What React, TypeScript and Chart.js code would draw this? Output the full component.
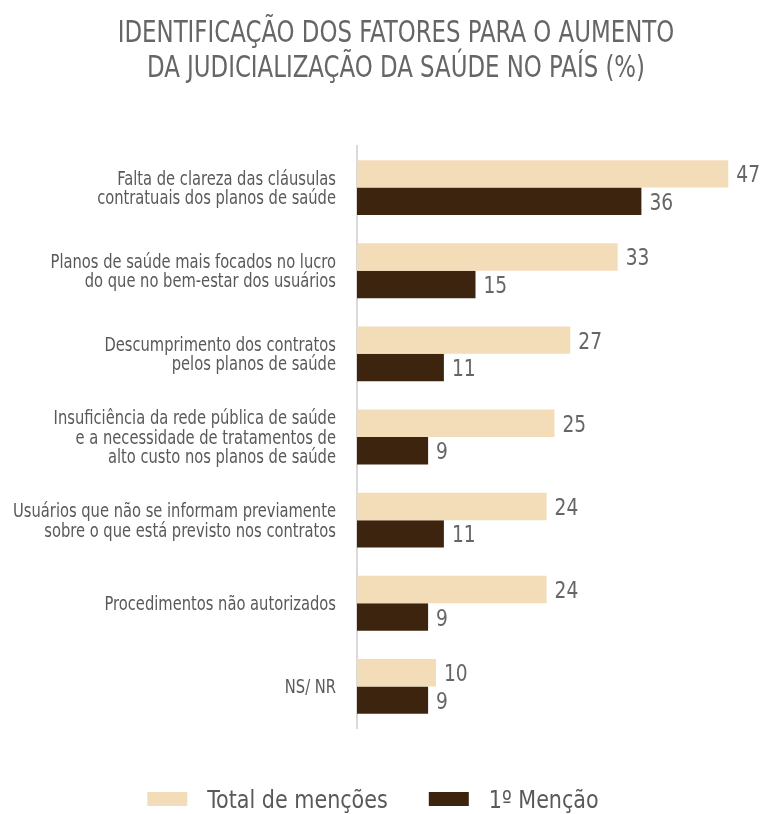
import React, { useEffect, useRef } from "react";
import { Chart, registerables } from "chart.js";

Chart.register(...registerables);

const categories: string[][] = [
  ["Falta de clareza das cláusulas", "contratuais dos planos de saúde"],
  ["Planos de saúde mais focados no lucro", "do que no bem-estar dos usuários"],
  ["Descumprimento dos contratos", "pelos planos de saúde"],
  ["Insuficiência da rede pública de saúde", "e a necessidade de tratamentos de", "alto custo nos planos de saúde"],
  ["Usuários que não se informam previamente", "sobre o que está previsto nos contratos"],
  ["Procedimentos não autorizados"],
  ["NS/ NR"],
];
const totalMencoes: number[] = [47, 33, 27, 25, 24, 24, 10];
const primeiraMencao: number[] = [36, 15, 11, 9, 11, 9, 9];
const titleLines: string[] = [
  "IDENTIFICAÇÃO DOS FATORES PARA O AUMENTO",
  "DA JUDICIALIZAÇÃO DA SAÚDE NO PAÍS (%)",
];
const seriesNames: string[] = ["Total de menções", "1º Menção"];
const seriesColors: string[] = ["#F3DDB9", "#3D240F"];

const FONT = "'DejaVu Sans Condensed', 'DejaVu Sans', sans-serif";

function drawText(
  ctx: CanvasRenderingContext2D,
  text: string,
  x: number,
  y: number,
  size: number,
  sx: number,
  align: CanvasTextAlign,
  color: string
) {
  ctx.save();
  ctx.font = `${size}px ${FONT}`;
  ctx.fillStyle = color;
  ctx.textAlign = align;
  ctx.textBaseline = "alphabetic";
  ctx.translate(x, y);
  ctx.scale(sx, 1);
  ctx.fillText(text, 0, 0);
  ctx.restore();
}

function textWidth(ctx: CanvasRenderingContext2D, text: string, size: number, sx: number) {
  ctx.save();
  ctx.font = `${size}px ${FONT}`;
  const w = ctx.measureText(text).width * sx;
  ctx.restore();
  return w;
}

const decorations = {
  id: "decorations",
  afterDraw(chart: any) {
    const ctx: CanvasRenderingContext2D = chart.ctx;
    // Title
    drawText(ctx, titleLines[0], 396, 42, 31, 0.82, "center", "#666666");
    drawText(ctx, titleLines[1], 396, 76.5, 31, 0.82, "center", "#666666");

    // Category labels
    const yScale = chart.scales.y;
    const lineH = 19.5;
    chart.data.labels.forEach((lbl: string[], i: number) => {
      const cy = yScale.getPixelForValue(i);
      const n = lbl.length;
      lbl.forEach((line: string, k: number) => {
        const by = cy + (k - (n - 1) / 2) * lineH + 6.8;
        drawText(ctx, line, chart.chartArea.left - 21, by, 19, 0.86, "right", "#595959");
      });
    });

    // Value labels
    chart.data.datasets.forEach((ds: any, i: number) => {
      const meta = chart.getDatasetMeta(i);
      meta.data.forEach((el: any, j: number) => {
        drawText(ctx, String(ds.data[j]), el.x + 8, el.y + 8.5, 23, 0.9, "left", "#666666");
      });
    });

    // Legend
    const fs = 25;
    const sx = 0.92;
    const boxW = 40;
    const boxH = 14;
    const gapText = 20;
    const gapItems = 41;
    const widths = seriesNames.map((s) => textWidth(ctx, s, fs, sx));
    const total = widths.reduce((a, w) => a + boxW + gapText + w, 0) + gapItems * (seriesNames.length - 1);
    let x = 373 - total / 2;
    const boxTop = 792;
    seriesNames.forEach((name, i) => {
      ctx.save();
      ctx.fillStyle = seriesColors[i];
      ctx.fillRect(x, boxTop, boxW, boxH);
      ctx.restore();
      x += boxW + gapText;
      drawText(ctx, name, x, boxTop + 16, fs, sx, "left", "#595959");
      x += widths[i] + gapItems;
    });
  },
};

export default function App() {
  const ref = useRef<HTMLCanvasElement | null>(null);
  useEffect(() => {
    if (!ref.current) return;
    const chart = new Chart(ref.current, {
      type: "bar",
      data: {
        labels: categories,
        datasets: [
          {
            label: seriesNames[0],
            data: totalMencoes,
            backgroundColor: seriesColors[0],
            categoryPercentage: 0.66,
            barPercentage: 1.0,
          },
          {
            label: seriesNames[1],
            data: primeiraMencao,
            backgroundColor: seriesColors[1],
            categoryPercentage: 0.66,
            barPercentage: 1.0,
          },
        ],
      },
      options: {
        indexAxis: "y",
        animation: false,
        responsive: false,
        layout: { padding: { top: 146, right: 11, bottom: 86, left: 0 } },
        scales: {
          x: { display: false, min: 0, max: 50 },
          y: {
            grid: { display: false },
            border: { display: true, color: "#d9d9d9", width: 2 },
            ticks: { display: false },
            afterFit(scale: any) {
              scale.width = 357;
            },
          },
        },
        plugins: {
          title: { display: false },
          legend: { display: false },
          tooltip: { enabled: false },
        },
      },
      plugins: [decorations],
    });
    return () => chart.destroy();
  }, []);
  return (
    <div style={{ position: "fixed", left: 0, top: 0, width: 763, height: 814, background: "#fff" }}>
      <canvas ref={ref} width={763} height={814} style={{ display: "block", width: 763, height: 814 }} />
    </div>
  );
}
